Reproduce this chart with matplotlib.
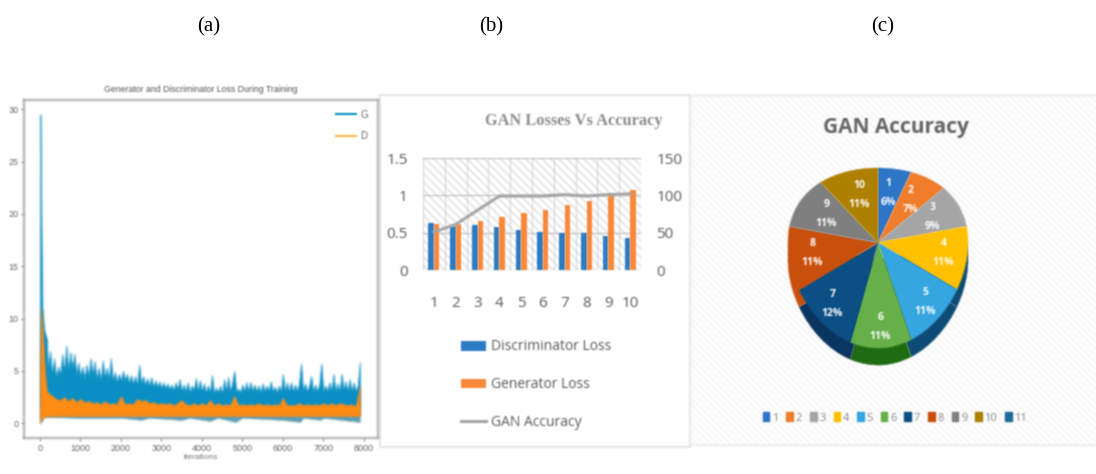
import numpy as np
import matplotlib
matplotlib.use("Agg")
import matplotlib.pyplot as plt
from matplotlib.patches import PathPatch, Patch, Rectangle
from matplotlib.path import Path

W, H = 1096, 474

# --- panel (a): envelopes ---
g_iters = [0, 10, 20, 40, 60, 100, 170] + list(range(200, 7901, 50))
g_high = [10, 29.5, 26, 17, 11, 9, 8,
          5.0, 6.9, 4.6, 6.2, 4.3, 5.4, 4.6, 6.6, 4.9, 7.4, 5.0, 6.8, 5.2, 6.6, 4.6, 5.8, 4.4, 5.4, 4.2, 5.6,
          4.4, 6.2, 4.6, 5.9, 4.2, 5.3, 4.0, 6.0, 4.3, 5.3, 4.1, 6.2, 4.0, 4.9, 3.9, 4.7, 4.0, 5.0, 4.1, 4.7,
          3.8, 4.6, 3.7, 4.5, 3.6, 5.6, 3.7, 4.5, 3.6, 4.3, 3.5, 4.4, 3.4, 4.1, 3.4, 4.0, 3.3, 3.9, 3.3, 3.8,
          3.2, 3.7, 3.1, 3.9, 3.2, 4.2, 3.0, 3.7, 3.0, 3.9, 2.9, 3.6, 3.1, 4.3, 3.0, 4.1, 3.0, 3.8, 2.9, 3.6,
          2.9, 4.6, 2.8, 3.4, 2.9, 3.6, 2.8, 4.2, 3.0, 4.4, 2.9, 3.9, 5.0, 3.0, 3.3, 2.9, 3.7, 3.0, 3.9, 3.0,
          3.9, 3.0, 3.7, 3.0, 3.6, 2.9, 3.8, 3.0, 3.6, 3.0, 4.0, 3.0, 3.5, 2.9, 3.6, 2.9, 4.7, 3.0, 3.9, 3.0,
          3.9, 3.0, 3.7, 3.0, 3.8, 5.7, 3.0, 3.8, 3.0, 3.6, 4.5, 2.9, 3.7, 3.0, 3.7, 5.7, 3.0, 3.6, 3.0, 3.9,
          3.0, 4.7, 3.0, 3.8, 3.0, 4.7, 3.1, 4.0, 3.0, 4.2, 3.0, 3.9, 3.0, 3.6, 5.8]
g_dip_iters = [0, 30, 100, 1000, 2000, 2500, 2700, 3500, 3700, 4200, 4400, 4830, 5000, 6000, 6430, 6500, 6930, 7000, 7900]
g_dip = [0, 0.1, 0.6, 0.5, 0.5, 0.3, 0.5, 0.3, 0.5, 0.2, 0.5, 0.1, 0.5, 0.3, 0.1, 0.5, 0.3, 0.5, 0.1]
d_iters = [0, 20, 50, 80, 120, 170] + list(range(200, 7901, 100))
d_high = [4, 11, 10, 8, 5, 3,
          2.9, 2.6, 2.3, 2.2, 2.5, 2.1, 2.4, 2.0, 2.3, 2.0,
          2.1, 1.9, 2.0, 1.8, 2.1, 1.8, 1.9, 1.8, 2.6, 1.8,
          1.9, 1.8, 2.3, 2.1, 2.2, 1.9, 2.0, 1.8, 1.9, 1.8,
          1.9, 1.7, 1.9, 2.2, 1.8, 1.7, 1.9, 1.7, 1.9, 1.7,
          2.2, 1.7, 1.9, 1.7, 1.8, 1.7, 2.6, 1.7, 1.8, 1.7,
          1.8, 1.7, 1.9, 1.7, 1.8, 1.7, 1.8, 1.7, 2.4, 1.7,
          1.7, 1.7, 1.9, 1.7, 1.8, 1.7, 1.8, 1.7, 1.9, 1.7,
          1.9, 1.7, 1.9, 1.8, 1.7, 1.8, 1.6, 3.5]
d_dip_iters = [0, 30, 100, 300, 7900]
d_dip = [0, 0.3, 0.6, 0.7, 0.7]

# --- panel (b) ---
epochs = [1, 2, 3, 4, 5, 6, 7, 8, 9, 10]
disc_loss = [0.63, 0.59, 0.60, 0.57, 0.54, 0.51, 0.49, 0.49, 0.46, 0.43]
gen_loss = [0.62, 0.61, 0.66, 0.71, 0.77, 0.81, 0.87, 0.93, 1.02, 1.07]
gan_acc = [51, 61, 80, 99, 99, 99, 101, 99, 101, 102]

# --- panel (c) ---
pie_values = [6, 7, 9, 11, 11, 11, 12, 11, 11, 11]
pie_labels = ["1", "2", "3", "4", "5", "6", "7", "8", "9", "10"]
pie_colors = ["#2e75c8", "#f07d2c", "#a5a5a5", "#ffc000", "#35a6e0", "#66b04a", "#0b4f84", "#c9500c", "#7f7f7f", "#ad8000"]
pie_sides = [None, None, None, "#0f4c75", "#0f4c75", "#1f6b12", "#0a3560", "#c9500c", None, None]
legend_names = pie_labels + ["11"]
legend_colors = pie_colors + ["#1f6a96"]

SANS = "Liberation Sans"
GREY = "#595959"


def px_axes(fig, left, top, right, bottom, **kw):
    # axes from pixel box measured on the reference
    return fig.add_axes([left / W, 1 - bottom / H, (right - left) / W, (bottom - top) / H], **kw)


def warp(xy):
    # tilted pie: the hub sits above the middle of the ellipse
    out = xy.copy()
    out[:, 1] = xy[:, 1] + 0.17 * (1 - np.clip(xy[:, 1], -1, 1) ** 2)
    return out


def soften(img, dpi):
    # the reference is a low-res scan, so every artist gets a small blur
    pad = 2
    a = np.pad(img.astype(float), ((pad, pad), (pad, pad), (0, 0)))
    a[..., :3] *= a[..., 3:]
    for axis in (0, 1):
        a = (np.roll(a, 1, axis) + 2 * a + np.roll(a, -1, axis)) / 4
    a[..., :3] /= np.maximum(a[..., 3:], 1e-6)
    return np.clip(a, 0, 1), -pad, -pad


fig = plt.figure(figsize=(W / 100, H / 100), dpi=100)

captions = []
for label, x in zip(["(a)", "(b)", "(c)"], [209, 491, 883]):
    captions.append(fig.text(x / W, 1 - 27 / H, label, ha="center", va="center", family="Liberation Serif", fontsize=15, color="black"))

# ==========================================
# (a) training losses
# ==========================================
ax_a = px_axes(fig, 24, 100, 378, 438)
ax_a.fill_between(g_iters, 1.5, g_high, color="#0a8fc4", lw=0.5)
ax_a.fill_between(g_dip_iters, g_dip, 1.5, color="#5d9db5", lw=0.3)
ax_a.fill_between(d_iters, 0.8, d_high, color="#ff8c14", lw=0.4)
ax_a.fill_between(d_dip_iters, d_dip, 0.9, color="#ff8c14", lw=0.4)
ax_a.set_xlim(-395, 8350)
ax_a.set_ylim(-1.43, 30.9)
ax_a.set_xticks(range(0, 8001, 1000))
ax_a.set_yticks(range(0, 31, 5))
ax_a.tick_params(labelsize=6.5, colors="#666666", length=2, width=0.6, pad=2)
for lab in ax_a.get_xticklabels() + ax_a.get_yticklabels():
    lab.set_family(SANS)
for s in ax_a.spines.values():
    s.set_color("#a8a8a8")
    s.set_linewidth(1.4)
ax_a.set_title("Generator and Discriminator Loss During Training", family=SANS, fontsize=6.3, color="#555555", pad=6)
ax_a.set_xlabel("iterations", family=SANS, fontsize=6, color="#777777", labelpad=1)
handles_a = [plt.Line2D([], [], color="#0a8fc4", lw=1.5), plt.Line2D([], [], color="#ffb347", lw=1.5)]
ax_a.legend(handles_a, ["G", "D"], loc="upper right", frameon=False, prop={"family": SANS, "size": 7},
            labelcolor="#666666", handlelength=2.0, borderaxespad=0.6, labelspacing=1.2, handletextpad=0.5)

# ==========================================
# (b) losses vs accuracy
# ==========================================
frame_b = Rectangle((380 / W, 1 - 447 / H), 310 / W, 352 / H, transform=fig.transFigure,
                    fc="white", ec="#e2e2e2", lw=1.2, zorder=-1)
fig.add_artist(frame_b)
fig.text(574 / W, 1 - 121 / H, "GAN Losses Vs Accuracy", ha="center", va="center",
         family="Liberation Serif", weight="bold", fontsize=11.8, color="#8c8c8c")
ax_b = px_axes(fig, 423, 158, 641, 270)
ax_b.patch.set_visible(False)
ax_b.set_axisbelow(True)
ax_b.add_patch(Rectangle((0, 0), 1, 1, transform=ax_b.transAxes, fc="white", ec="#e0e0e0", hatch="\\\\\\\\", lw=0, zorder=0))
x = np.array(epochs)
bars_d = ax_b.bar(x - 0.125, disc_loss, width=0.25, color="#2b7cc4", zorder=2)
bars_g = ax_b.bar(x + 0.125, gen_loss, width=0.25, color="#f8883a", zorder=2)
ax_b.set_xlim(0.5, 10.5)
ax_b.set_ylim(0, 1.5)
ax_b.set_xticks(epochs)
ax_b.set_xticks(np.arange(0.5, 11), minor=True)
ax_b.set_yticks([0, 0.5, 1, 1.5])
ax_b.set_yticklabels(["0", "0.5", "1", "1.5"])
ax_b.grid(axis="y", color="#c8c8c8", lw=1.0, zorder=1)
ax_b.grid(axis="x", which="minor", color="#d8d8d8", lw=0.8, zorder=1)
ax_b.tick_params(axis="both", which="both", length=0)
ax_b.tick_params(axis="y", labelsize=11, labelcolor=GREY, pad=11)
ax_b.tick_params(axis="x", labelsize=11, labelcolor=GREY, pad=19)
ax_t = ax_b.twinx()
ax_t.patch.set_visible(False)
line_acc, = ax_t.plot(x, gan_acc, color="#a6a6a6", lw=2.2, zorder=3)
ax_t.set_ylim(0, 150)
ax_t.set_yticks([0, 50, 100, 150])
ax_t.tick_params(axis="y", length=0, labelsize=11, labelcolor=GREY, pad=11)
for a in (ax_b, ax_t):
    for s in a.spines.values():
        s.set_visible(False)
    for lab in a.get_xticklabels() + a.get_yticklabels():
        lab.set_family("Open Sans")
fig.legend([bars_d, bars_g, line_acc], ["Discriminator Loss", "Generator Loss", "GAN Accuracy"],
           loc="upper left", bbox_to_anchor=(448 / W, 1 - 327 / H), frameon=False, labelcolor=GREY,
           prop={"family": "Open Sans", "size": 10}, labelspacing=1.65, handlelength=1.85, handletextpad=0.35)

# ==========================================
# (c) accuracy pie
# ==========================================
ax_back = px_axes(fig, 690, 95, 1096, 445)
ax_back.set_xticks([])
ax_back.set_yticks([])
ax_back.add_patch(Rectangle((0, 0), 1, 1, transform=ax_back.transAxes, fc="white", ec="#f4f4f4", hatch="\\\\\\\\\\", lw=0))
for s in ax_back.spines.values():
    s.set_color("#e2e2e2")
fig.text(896 / W, 1 - 128 / H, "GAN Accuracy", ha="center", va="center", family="Open Sans",
         weight="bold", fontsize=15, color="#666666")

ax_c = px_axes(fig, 788, 168, 968, 348)
ax_c.axis("off")
wedges, _ = ax_c.pie(pie_values, startangle=90, counterclock=False, colors=pie_colors, radius=1)
ax_c.set_aspect("auto")
ax_c.set_xlim(-1, 1)
ax_c.set_ylim(-1, 1)
for w, side, top, name, val in zip(wedges, pie_sides, pie_colors, pie_labels, pie_values):
    path = w.get_path()
    verts = warp(w.get_patch_transform().transform(path.vertices))
    w.set_visible(False)
    if side is not None:
        ax_c.add_patch(PathPatch(Path(verts - [0, 0.19], path.codes), fc=side, ec=side, lw=0.3, clip_on=False, zorder=1))
    ax_c.add_patch(PathPatch(Path(verts, path.codes), fc=top, ec=top, lw=0.3, clip_on=False, zorder=2))
    mid = np.deg2rad((w.theta1 + w.theta2) / 2)
    # labels sit closer to the hub on the far side of the tilted pie
    r = 0.72 - 0.10 * np.sin(mid)
    pos = warp(np.array([[r * np.cos(mid), r * np.sin(mid)]]))[0]
    ax_c.text(pos[0], pos[1], f"{name}\n{val}%", ha="center", va="center", color="white", weight="bold",
              family="Open Sans", fontsize=7.5, linespacing=2.0, zorder=3)

handles_c = [Patch(color=c) for c in legend_colors]
fig.legend(handles_c, legend_names, loc="center", bbox_to_anchor=(895 / W, 1 - 418 / H), ncol=11, frameon=False,
           labelcolor="#8a8a8a", prop={"family": "Open Sans", "size": 8}, handlelength=0.6, handleheight=0.8,
           handletextpad=0.25, columnspacing=0.7)

for art in fig.findobj():
    if art not in captions and art is not fig.patch and not art.get_children():
        art.set_agg_filter(soften)

fig.savefig("out.png", dpi=100)
